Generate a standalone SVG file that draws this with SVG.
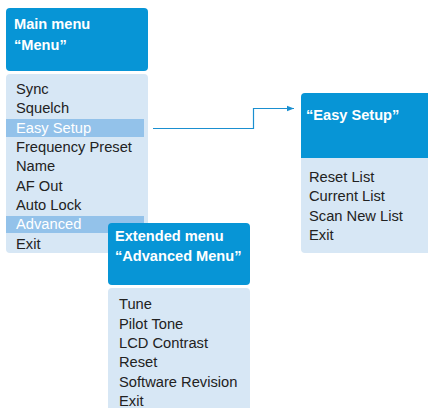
<svg xmlns="http://www.w3.org/2000/svg" width="428" height="408" viewBox="0 0 428 408">
<style>
.hdr{fill:#0795d6}
.lst{fill:#d7e7f5}
.hl{fill:#93c2ea}
.ht{font-family:"Liberation Sans",Arial,sans-serif;font-size:14.6px;font-weight:bold;fill:#fff}
.it{font-family:"Liberation Sans",Arial,sans-serif;font-size:14.7px;fill:#222}
.itw{font-family:"Liberation Sans",Arial,sans-serif;font-size:14.7px;fill:#fff}
.conn{fill:none;stroke:#1a8fd0;stroke-width:1.2}
</style>
<defs>
<marker id="arr" viewBox="0 0 10 10" refX="10" refY="5" markerWidth="7" markerHeight="7" orient="auto" markerUnits="userSpaceOnUse">
<path d="M0,1 L10,5 L0,9 z" fill="#1a8fd0"/>
</marker>
</defs>
<rect width="428" height="408" fill="#fff"/>
<g id="main-menu">
<rect class="hdr" x="6" y="8" width="142" height="63" rx="4"/>
<text class="ht" x="14" y="29">Main menu</text>
<text class="ht" x="14" y="50">“Menu”</text>
<rect class="lst" x="6" y="74" width="142" height="179" rx="4"/>
<rect class="hl" x="6" y="119" width="138" height="18"/>
<rect class="hl" x="6" y="216" width="138" height="17"/>
<text class="it" x="16" y="94">Sync</text>
<text class="it" x="16" y="113">Squelch</text>
<text class="itw" x="16" y="133">Easy Setup</text>
<text class="it" x="16" y="152">Frequency Preset</text>
<text class="it" x="16" y="171">Name</text>
<text class="it" x="16" y="191">AF Out</text>
<text class="it" x="16" y="210">Auto Lock</text>
<text class="itw" x="16" y="229">Advanced</text>
<text class="it" x="16" y="249">Exit</text>
</g>
<g id="advanced-menu">
<rect class="hdr" x="108" y="223" width="142" height="62" rx="4"/>
<text class="ht" x="115" y="241">Extended menu</text>
<text class="ht" x="115" y="261">“Advanced Menu”</text>
<rect class="lst" x="108" y="288" width="142" height="130" rx="4"/>
<text class="it" x="119" y="309">Tune</text>
<text class="it" x="119" y="329">Pilot Tone</text>
<text class="it" x="119" y="348">LCD Contrast</text>
<text class="it" x="119" y="367">Reset</text>
<text class="it" x="119" y="387">Software Revision</text>
<text class="it" x="119" y="406">Exit</text>
</g>
<g id="easy-setup">
<path class="hdr" d="M305,93 H432 V158 H301 V97 A4,4 0 0 1 305,93 z"/>
<text class="ht" x="306" y="120">“Easy Setup”</text>
<path class="lst" d="M301,158 H432 V253 H305 A4,4 0 0 1 301,249 z"/>
<text class="it" x="309" y="182">Reset List</text>
<text class="it" x="309" y="201">Current List</text>
<text class="it" x="309" y="221">Scan New List</text>
<text class="it" x="309" y="240">Exit</text>
</g>
<g id="connectors">
<path class="conn" d="M153,128.5 H253.5 V108.5 H294" marker-end="url(#arr)"/>
</g>
</svg>
